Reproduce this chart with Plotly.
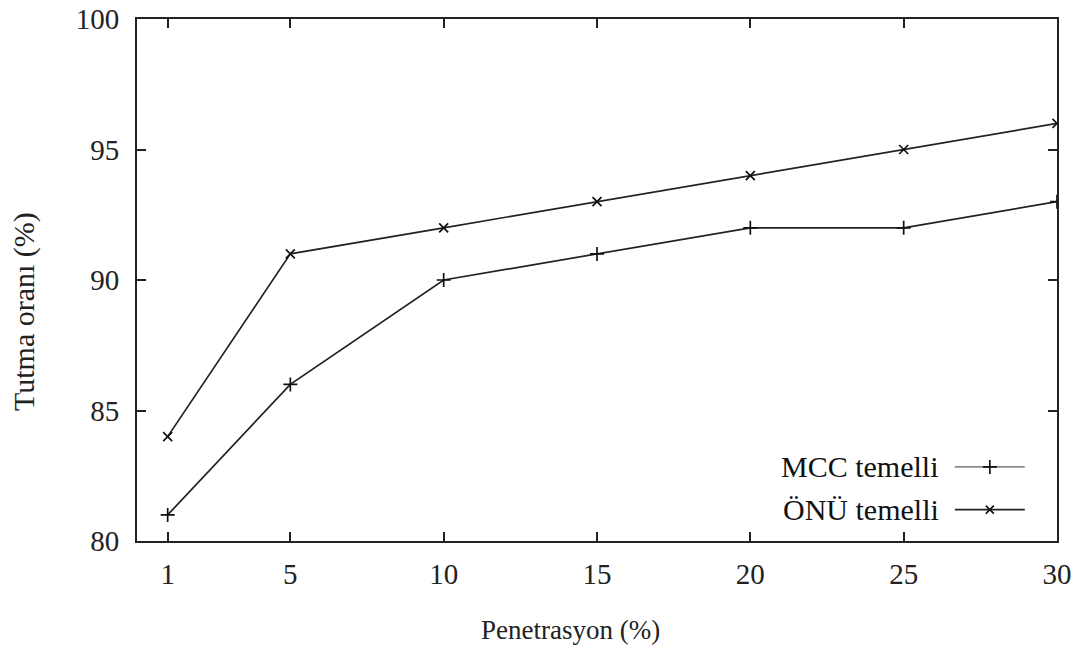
import plotly.graph_objects as go

penetration = [1, 5, 10, 15, 20, 25, 30]
mcc = [81, 86, 90, 91, 92, 92, 93]
onu = [84, 91, 92, 93, 94, 95, 96]
x_ticks = [1, 5, 10, 15, 20, 25, 30]
y_ticks = [80, 85, 90, 95, 100]
names = ["MCC temelli", "ÖNÜ temelli"]
x_title = "Penetrasyon (%)"
y_title = "Tutma oranı (%)"

FONT = "Liberation Serif"
LINE_COLOR = "#222222"

fig = go.Figure()
fig.add_trace(go.Scatter(x=penetration, y=mcc, mode="lines+markers", name=names[0],
                         line=dict(color=LINE_COLOR, width=1.7),
                         marker=dict(symbol="cross-thin", size=10, line=dict(color="#111", width=1.7)),
                         showlegend=False))
fig.add_trace(go.Scatter(x=penetration, y=onu, mode="lines+markers", name=names[1],
                         line=dict(color=LINE_COLOR, width=1.7),
                         marker=dict(symbol="x-thin", size=9, line=dict(color="#111", width=1.7)),
                         showlegend=False))

# legend samples on auxiliary axis (symbol to the right of text, gnuplot-style)
leg_y = [0.142, 0.06]
leg_x = [0.889, 0.927, 0.965]
fig.add_trace(go.Scatter(x=leg_x, y=[leg_y[0]] * 3, xaxis="x2", yaxis="y2",
                         mode="lines", line=dict(color="#8a8a8a", width=1.7),
                         showlegend=False, hoverinfo="skip"))
fig.add_trace(go.Scatter(x=[leg_x[1]], y=[leg_y[0]], xaxis="x2", yaxis="y2", mode="markers",
                         marker=dict(symbol="cross-thin", size=10, line=dict(color="#111", width=1.7)),
                         showlegend=False, hoverinfo="skip"))
fig.add_trace(go.Scatter(x=leg_x, y=[leg_y[1]] * 3, xaxis="x2", yaxis="y2",
                         mode="lines", line=dict(color=LINE_COLOR, width=1.7),
                         showlegend=False, hoverinfo="skip"))
fig.add_trace(go.Scatter(x=[leg_x[1]], y=[leg_y[1]], xaxis="x2", yaxis="y2", mode="markers",
                         marker=dict(symbol="x-thin", size=8, line=dict(color="#111", width=1.7)),
                         showlegend=False, hoverinfo="skip"))
for name, yy in zip(names, leg_y):
    fig.add_annotation(x=0.874, y=yy, xref="x2", yref="y2", text=name, showarrow=False,
                       xanchor="right", yanchor="middle", font=dict(family=FONT, size=30, color="#111"))

# axis titles (gnuplot-style placement, paper coordinates)
fig.add_annotation(x=0.4717, y=-0.1705, xref="paper", yref="paper", text=x_title, showarrow=False,
                   xanchor="center", yanchor="middle",
                   font=dict(family=FONT, size=27, color="#222"))
fig.add_annotation(x=-0.1228, y=0.4387, xref="paper", yref="paper", text=y_title, showarrow=False,
                   textangle=-90, xanchor="center", yanchor="middle",
                   font=dict(family=FONT, size=30, color="#222"))

axis_common = dict(showgrid=False, zeroline=False, showline=True, linecolor="#222", linewidth=2,
                   mirror="ticks", ticks="inside", ticklen=9, tickwidth=1.5, tickcolor="#222",
                   automargin=False,
                   tickfont=dict(family=FONT, size=29, color="#222"))

fig.update_layout(
    width=1090, height=648,
    margin=dict(l=137, r=33, t=19, b=107),
    paper_bgcolor="white", plot_bgcolor="white",
    xaxis=dict(range=[0, 30], tickvals=x_ticks, ticktext=[str(v) for v in x_ticks],
               ticklabelstandoff=6, **axis_common),
    yaxis=dict(range=[80, 100], tickvals=y_ticks, ticktext=[str(v) for v in y_ticks],
               ticklabelstandoff=10, **axis_common),
    xaxis2=dict(range=[0, 1], overlaying="x", visible=False, fixedrange=True),
    yaxis2=dict(range=[0, 1], overlaying="y", visible=False, fixedrange=True),
)

fig.write_html("out.html")
